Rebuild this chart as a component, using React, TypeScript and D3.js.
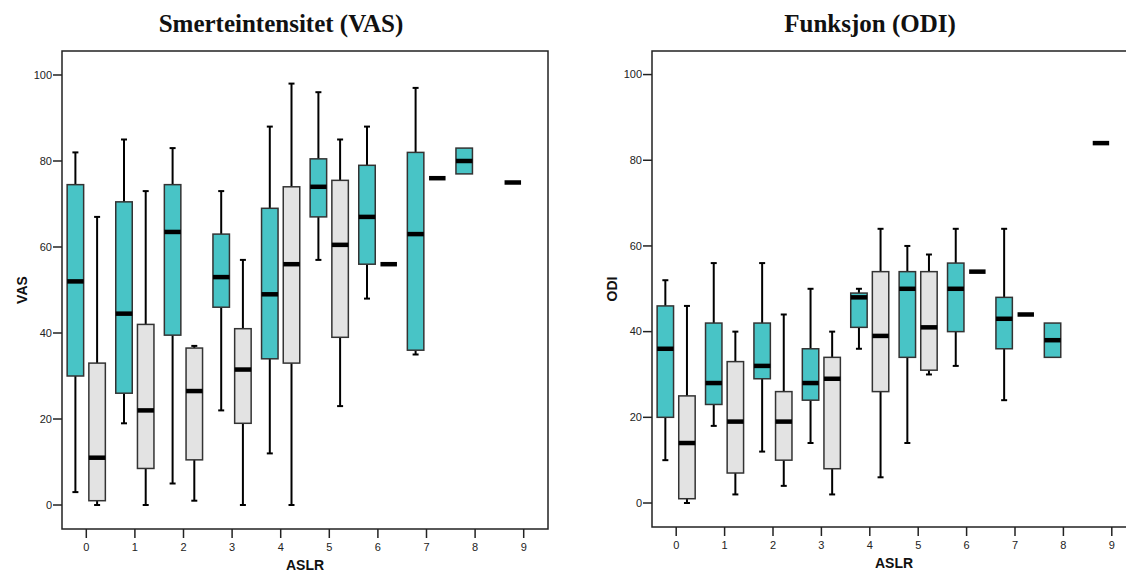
import React from "react";
import * as d3 from "d3";

type Box = [number, number, number, number, number] | null;

const categories = ["0", "1", "2", "3", "4", "5", "6", "7", "8", "9"];
const yTicks = [0, 20, 40, 60, 80, 100];

// [min, q1, median, q3, max]
const vasTeal: Box[] = [
  [3, 30, 52, 74.5, 82],
  [19, 26, 44.5, 70.5, 85],
  [5, 39.5, 63.5, 74.5, 83],
  [22, 46, 53, 63, 73],
  [12, 34, 49, 69, 88],
  [57, 67, 74, 80.5, 96],
  [48, 56, 67, 79, 88],
  [35, 36, 63, 82, 97],
  [77, 77, 80, 83, 83],
  [75, 75, 75, 75, 75],
];
const vasGrey: Box[] = [
  [0, 1, 11, 33, 67],
  [0, 8.5, 22, 42, 73],
  [1, 10.5, 26.5, 36.5, 37],
  [0, 19, 31.5, 41, 57],
  [0, 33, 56, 74, 98],
  [23, 39, 60.5, 75.5, 85],
  [56, 56, 56, 56, 56],
  [76, 76, 76, 76, 76],
  null,
  null,
];
const odiTeal: Box[] = [
  [10, 20, 36, 46, 52],
  [18, 23, 28, 42, 56],
  [12, 29, 32, 42, 56],
  [14, 24, 28, 36, 50],
  [36, 41, 48, 49, 50],
  [14, 34, 50, 54, 60],
  [32, 40, 50, 56, 64],
  [24, 36, 43, 48, 64],
  [34, 34, 38, 42, 42],
  [84, 84, 84, 84, 84],
];
const odiGrey: Box[] = [
  [0, 1, 14, 25, 46],
  [2, 7, 19, 33, 40],
  [4, 10, 19, 26, 44],
  [2, 8, 29, 34, 40],
  [6, 26, 39, 54, 64],
  [30, 31, 41, 54, 58],
  [54, 54, 54, 54, 54],
  [44, 44, 44, 44, 44],
  null,
  null,
];

const TEAL = "#48C4C6";
const GREY = "#E3E3E3";
const SANS = "'Liberation Sans', Arial, Helvetica, sans-serif";
const SERIF = "'Liberation Serif', 'Times New Roman', serif";

type PanelProps = {
  title: string;
  yLabel: string;
  left: number;
  right: number;
  top: number;
  bottom: number;
  yDomain: [number, number];
  teal: Box[];
  grey: Box[];
};

function Panel({ title, yLabel, left, right, top, bottom, yDomain, teal, grey }: PanelProps) {
  const x = d3.scaleBand<string>().domain(categories).range([left, right]).padding(0);
  const y = d3.scaleLinear().domain(yDomain).range([bottom, top]);
  const bw = x.bandwidth();
  const sub = d3
    .scaleBand<string>()
    .domain(["teal", "grey"])
    .range([bw * 0.106, bw * 0.892])
    .paddingInner(0.24);
  const boxW = sub.bandwidth();
  const capW = 6;
  const cx = (left + right) / 2;

  const renderBox = (b: Box, cat: string, key: string, fill: string) => {
    if (!b) return null;
    const [mn, q1, md, q3, mx] = b;
    const x0 = (x(cat) as number) + (sub(key) as number);
    const xc = x0 + boxW / 2;
    const degenerate = q1 === q3;
    return (
      <g key={key + cat}>
        {mx > q3 && (
          <g>
            <line x1={xc} x2={xc} y1={y(q3)} y2={y(mx)} stroke="#000" strokeWidth={2} />
            <line x1={xc - capW / 2} x2={xc + capW / 2} y1={y(mx)} y2={y(mx)} stroke="#000" strokeWidth={2} />
          </g>
        )}
        {mn < q1 && (
          <g>
            <line x1={xc} x2={xc} y1={y(q1)} y2={y(mn)} stroke="#000" strokeWidth={2} />
            <line x1={xc - capW / 2} x2={xc + capW / 2} y1={y(mn)} y2={y(mn)} stroke="#000" strokeWidth={2} />
          </g>
        )}
        {!degenerate && (
          <rect
            x={x0}
            y={y(q3)}
            width={boxW}
            height={y(q1) - y(q3)}
            fill={fill}
            stroke="#333"
            strokeWidth={1.5}
          />
        )}
        <rect x={x0} y={y(md) - 2.25} width={boxW} height={4.5} fill="#000" />
      </g>
    );
  };

  return (
    <g>
      <text
        x={cx - 24}
        y={32}
        textAnchor="middle"
        fontFamily={SERIF}
        fontWeight="bold"
        fontSize={25}
        fill="#111"
      >
        {title}
      </text>
      <rect
        x={left}
        y={top}
        width={right - left}
        height={bottom - top}
        fill="none"
        stroke="#222"
        strokeWidth={1.5}
      />
      {yTicks.map((t) => (
        <g key={"yt" + t}>
          <line x1={left - 9} x2={left} y1={y(t)} y2={y(t)} stroke="#222" strokeWidth={1.5} />
          <text
            x={left - 10}
            y={y(t)}
            dy="0.35em"
            textAnchor="end"
            fontFamily={SANS}
            fontSize={11}
            fill="#222"
          >
            {t}
          </text>
        </g>
      ))}
      {categories.map((c) => {
        const xc = (x(c) as number) + bw / 2;
        return (
          <g key={"xt" + c}>
            <line x1={xc} x2={xc} y1={bottom} y2={bottom + 9} stroke="#222" strokeWidth={1.5} />
            <text x={xc} y={bottom + 22} textAnchor="middle" fontFamily={SANS} fontSize={11} fill="#222">
              {c}
            </text>
          </g>
        );
      })}
      <text
        transform={`translate(${left - 35},${(top + bottom) / 2}) rotate(-90)`}
        textAnchor="middle"
        fontFamily={SANS}
        fontWeight="bold"
        fontSize={14}
        fill="#111"
      >
        {yLabel}
      </text>
      <text
        x={cx}
        y={bottom + 41}
        textAnchor="middle"
        fontFamily={SANS}
        fontWeight="bold"
        fontSize={14}
        fill="#111"
      >
        ASLR
      </text>
      {categories.map((c, i) => renderBox(teal[i], c, "teal", TEAL))}
      {categories.map((c, i) => renderBox(grey[i], c, "grey", GREY))}
    </g>
  );
}

export default function App() {
  return (
    <svg
      width={1126}
      height={572}
      style={{ position: "absolute", left: 0, top: 0, background: "#fff", overflow: "hidden" }}
    >
      <rect x={0} y={0} width={1126} height={572} fill="#fff" />
      <Panel
        title="Smerteintensitet (VAS)"
        yLabel="VAS"
        left={62}
        right={548}
        top={51}
        bottom={529}
        yDomain={[-5.58, 105.58]}
        teal={vasTeal}
        grey={vasGrey}
      />
      <Panel
        title="Funksjon (ODI)"
        yLabel="ODI"
        left={652}
        right={1136}
        top={51}
        bottom={527}
        yDomain={[-5.6, 105.5]}
        teal={odiTeal}
        grey={odiGrey}
      />
    </svg>
  );
}
